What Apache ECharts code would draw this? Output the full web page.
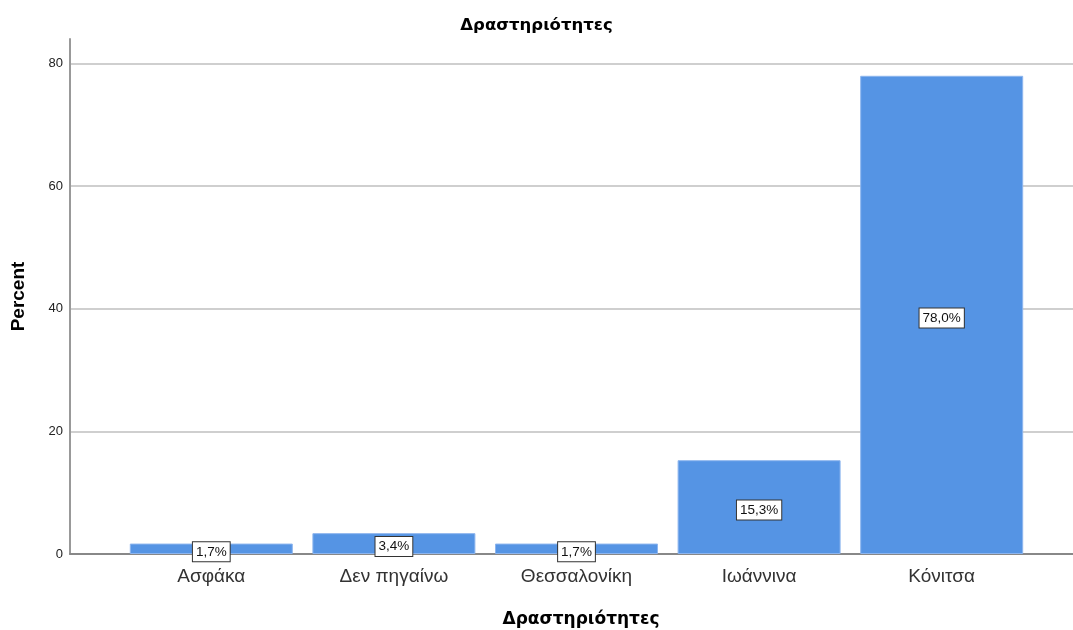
<!DOCTYPE html>
<html>
<head>
<meta charset="utf-8">
<script src="https://cdn.jsdelivr.net/npm/echarts@6/dist/echarts.min.js"></script>
<style>html,body{margin:0;padding:0;background:#fff}#c{width:1073px;height:630px}</style>
</head>
<body>
<div id="c"></div>
<script>
var categories = ['Ασφάκα', 'Δεν πηγαίνω', 'Θεσσαλονίκη', 'Ιωάννινα', 'Κόνιτσα'];
var percentValues = [1.7, 3.4, 1.7, 15.3, 78.0];
var yTicks = [0, 20, 40, 60, 80];
var titleText = 'Δραστηριότητες';
var xTitle = 'Δραστηριότητες';
var yTitle = 'Percent';

var FONT = '"Liberation Sans", Arial, sans-serif';
var TFONT = '"DejaVu Sans", Verdana, sans-serif';
var chart = echarts.init(document.getElementById('c'), null, {renderer: 'canvas'});
var yMin = yTicks[0], yMax = 84, yInt = yTicks[1] - yTicks[0];
chart.setOption({
  animation: false,
  backgroundColor: '#fff',
  title: [
    {text: titleText, left: 'center', top: 12, textStyle: {fontFamily: TFONT, fontSize: 16.5, fontWeight: 'bold', color: '#000'}},
    {text: xTitle, left: 576, textAlign: 'center', top: 606, textStyle: {fontFamily: TFONT, fontSize: 17, fontWeight: 'bold', color: '#000'}}
  ],
  grid: [
    {left: 70, right: 0, top: 39, bottom: 76},
    {left: 120, right: 40, top: 39, bottom: 76}
  ],
  xAxis: [
    {type: 'category', gridIndex: 0, data: [''], axisLine: {show: true, lineStyle: {color: '#888', width: 2}},
     axisTick: {show: false}, axisLabel: {show: false}, splitLine: {show: false}},
    {type: 'category', gridIndex: 1, data: categories, axisLine: {show: false}, axisTick: {show: false},
     axisLabel: {fontFamily: FONT, fontSize: 19, color: '#333', margin: 13}}
  ],
  yAxis: [
    {type: 'value', gridIndex: 0, min: yMin, max: yMax, interval: yInt,
     name: yTitle, nameLocation: 'middle', nameRotate: 90, nameGap: 42,
     nameTextStyle: {fontFamily: FONT, fontSize: 19, fontWeight: 'bold', color: '#000'},
     axisLine: {show: true, lineStyle: {color: '#999', width: 2}},
     axisTick: {show: false},
     axisLabel: {fontFamily: FONT, fontSize: 13, color: '#222', margin: 7, showMaxLabel: false},
     splitLine: {show: true, showMinLine: false, showMaxLine: false, lineStyle: {color: '#cfcfcf', width: 2}}},
    {type: 'value', gridIndex: 1, min: yMin, max: yMax, interval: yInt, show: false,
     splitLine: {show: false}}
  ],
  series: [{
    type: 'bar', xAxisIndex: 1, yAxisIndex: 1, data: percentValues, barWidth: 163,
    itemStyle: {color: '#5594e4', borderColor: '#8db5ee', borderWidth: 1},
    label: {show: true, position: 'inside', offset: [0, 3], fontFamily: FONT, fontSize: 13.5, color: '#111',
      backgroundColor: '#fff', borderColor: '#333', borderWidth: 1, padding: [3, 3, 2, 3],
      formatter: function (p) { return p.value.toFixed(1).replace('.', ',') + '%'; }}
  }]
});
</script>
</body>
</html>
